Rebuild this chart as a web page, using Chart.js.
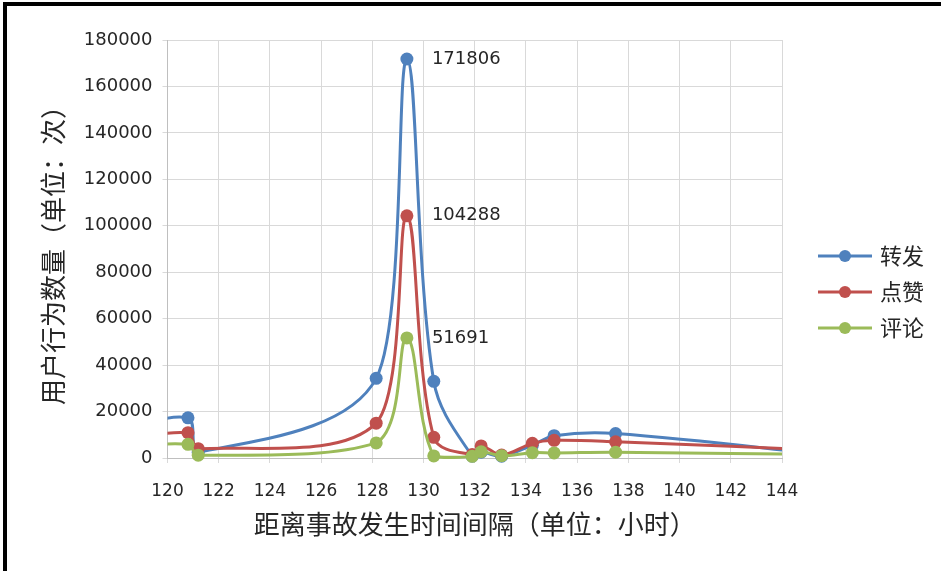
<!DOCTYPE html>
<html>
<head>
<meta charset="utf-8">
<script src="https://cdn.jsdelivr.net/npm/chart.js@4.4.1/dist/chart.umd.min.js"></script>
<style>
  html, body { margin: 0; padding: 0; background: #fff; }
  #wrap { position: relative; width: 941px; height: 571px; overflow: hidden; }
  #wrap canvas { position: absolute; left: 0; top: 0; }
  #frame { position: absolute; left: 3px; top: 2px; right: -10px; bottom: -10px;
           border-top: 4px solid #000; border-left: 4px solid #000; pointer-events: none; }
</style>
</head>
<body>
<div id="wrap">
  <canvas id="chart" width="941" height="571"></canvas>
  <div id="frame"></div>
</div>
<script>
// Hours since the accident (points just outside 120–144 carry the curves to the edges)
const hours    = [118.0, 120.8, 121.2, 128.15, 129.35, 130.4, 131.9, 132.25, 133.05, 134.25, 135.1, 137.5, 146.5];
// User actions per time point
const reposts  = [11000, 17300, 2500, 34300, 171806, 33000, 800, 2500, 800, 5500, 9600, 10500, 500];
const likes    = [7000, 10900, 4000, 15000, 104288, 8900, 1500, 5200, 1300, 6300, 7600, 7000, 3000];
const comments = [4500, 5900, 1200, 6500, 51691, 900, 700, 2700, 1000, 2300, 2200, 2500, 1300];

const seriesNames  = ['转发', '点赞', '评论'];
const seriesValues = [reposts, likes, comments];
const seriesColors = ['#4F81BD', '#C0504D', '#9BBB59'];

// Axis ranges and tick steps
const xMin = 120, xMax = 144, xStep = 2;
const yMin = 0, yMax = 180000, yStep = 20000;

const xTitle = '距离事故发生时间间隔（单位：小时）';
const yTitle = '用户行为数量（单位：次）';

const CJK = '"Noto Sans CJK SC", "Noto Sans", sans-serif';
const NUM = '"DejaVu Sans", sans-serif';

const datasets = seriesNames.map((name, i) => ({
  label: name,
  data: hours.map((h, j) => ({ x: h, y: seriesValues[i][j] })),
  borderColor: seriesColors[i],
  backgroundColor: seriesColors[i],
  pointBackgroundColor: seriesColors[i],
  // later series are painted over earlier ones
  order: seriesNames.length - i,
  clip: { left: 0, right: 0, top: 12, bottom: 10 }
}));

// Keep each Bezier handle within its own segment horizontally, so steep
// spikes stay single-valued instead of bulging past the neighbouring point.
const boundedHandles = {
  id: 'boundedHandles',
  beforeDatasetDraw(chart, args) {
    const line = args.meta.dataset;
    if (!line) return;
    line.updateControlPoints(chart.chartArea, 'x');
    const pts = line.points;
    for (let i = 0; i < pts.length - 1; i++) {
      const a = pts[i], b = pts[i + 1];
      const lim = (b.x - a.x) * 0.95;
      const ox = a.cp2x - a.x;
      if (ox > lim) {
        const s = lim / ox;
        a.cp2x = a.x + ox * s;
        a.cp2y = a.y + (a.cp2y - a.y) * s;
      }
      const ix = b.x - b.cp1x;
      if (ix > lim) {
        const s = lim / ix;
        b.cp1x = b.x - ix * s;
        b.cp1y = b.y + (b.cp1y - b.y) * s;
      }
    }
  }
};

// Value labels next to each series' highest point
const peakLabels = {
  id: 'peakLabels',
  afterDatasetsDraw(chart) {
    const ctx = chart.ctx;
    chart.data.datasets.forEach((ds, i) => {
      let k = 0;
      ds.data.forEach((p, j) => { if (p.y > ds.data[k].y) k = j; });
      const el = chart.getDatasetMeta(i).data[k];
      ctx.save();
      ctx.font = '18px ' + NUM;
      ctx.fillStyle = '#262626';
      ctx.textAlign = 'left';
      ctx.textBaseline = 'middle';
      ctx.fillText(String(ds.data[k].y), el.x + 25, el.y);
      ctx.restore();
    });
  }
};

// Legend on the right: line-with-marker swatch and series name
const sideLegend = {
  id: 'sideLegend',
  afterDraw(chart) {
    const ctx = chart.ctx;
    const x0 = chart.chartArea.right + 36;
    const cy = (chart.chartArea.top + chart.chartArea.bottom) / 2 + 43;
    chart.data.datasets.forEach((ds, i) => {
      const y = cy + (i - 1) * 36;
      ctx.save();
      ctx.strokeStyle = ds.borderColor;
      ctx.lineWidth = 3;
      ctx.beginPath();
      ctx.moveTo(x0, y);
      ctx.lineTo(x0 + 54, y);
      ctx.stroke();
      ctx.fillStyle = ds.borderColor;
      ctx.beginPath();
      ctx.arc(x0 + 27, y, 6, 0, Math.PI * 2);
      ctx.fill();
      ctx.font = '22px ' + CJK;
      ctx.fillStyle = '#262626';
      ctx.textAlign = 'left';
      ctx.textBaseline = 'middle';
      ctx.fillText(ds.label, x0 + 62, y);
      ctx.restore();
    });
  }
};

new Chart(document.getElementById('chart'), {
  type: 'line',
  data: { datasets },
  plugins: [boundedHandles, peakLabels, sideLegend],
  options: {
    responsive: false,
    animation: false,
    layout: { padding: { left: 38, top: 40, right: 159, bottom: 31 } },
    elements: {
      line: { borderWidth: 3, tension: 0.36, capBezierPoints: true },
      point: { radius: 6.5, hoverRadius: 6.5, borderWidth: 0 }
    },
    scales: {
      x: {
        type: 'linear',
        min: xMin, max: xMax,
        ticks: { stepSize: xStep, padding: 18, color: '#262626', font: { family: NUM, size: 17 } },
        grid: { color: '#d9d9d9', tickLength: 5 },
        border: { color: '#bfbfbf' },
        title: { display: true, text: xTitle, color: '#262626',
                 font: { family: CJK, size: 26 }, padding: { top: 0, bottom: 0 } },
        afterFit(scale) { scale.height = 82; }
      },
      y: {
        min: yMin, max: yMax,
        ticks: { stepSize: yStep, padding: 10, color: '#262626', font: { family: NUM, size: 18 },
                 callback: v => String(v) },
        grid: { color: '#d9d9d9', tickLength: 5 },
        border: { color: '#bfbfbf' },
        title: { display: true, text: yTitle, color: '#262626',
                 font: { family: CJK, size: 26 }, padding: { top: 0, bottom: 0 } },
        afterFit(scale) { scale.width = 129.5; }
      }
    },
    plugins: {
      legend: { display: false },
      tooltip: { enabled: false }
    }
  }
});
</script>
</body>
</html>
